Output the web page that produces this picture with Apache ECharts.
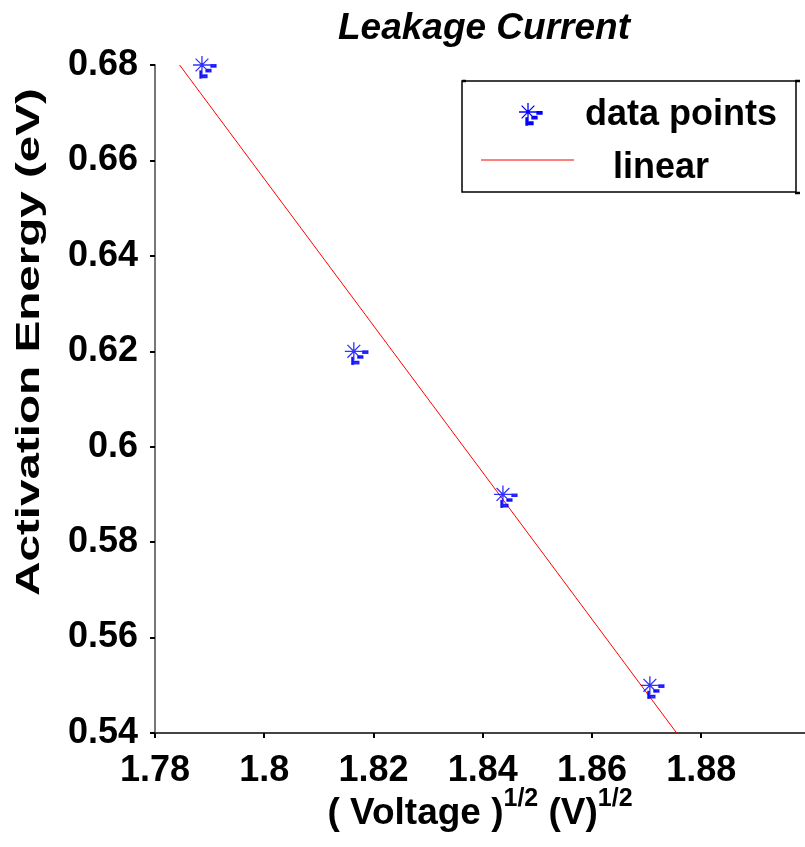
<!DOCTYPE html>
<html>
<head>
<meta charset="utf-8">
<title>Leakage Current</title>
<script src="https://cdn.jsdelivr.net/npm/echarts@6/dist/echarts.min.js"></script>
<style>
  html, body { margin: 0; padding: 0; background: #fff; }
  #chart { width: 805px; height: 847px; }
</style>
</head>
<body>
<div id="chart"></div>
<script>
// Measured points: square root of voltage vs. activation energy
const sqrtVoltage = [1.7886, 1.8164, 1.8437, 1.8706];
const activationEnergy = [0.68, 0.62, 0.59, 0.55];

// End points of the linear fit line
const fitX = [1.7845, 1.8755];
const fitY = [0.68, 0.54];

const FONT = '"Liberation Sans", Arial, Helvetica, sans-serif';

// Asterisk marker with small dash marks, drawn around (0,0)
const STAR_PATH =
  'M-9 0L9 0M0 -9L0 9M-6.4 -6.4L6.4 6.4M-6.4 6.4L6.4 -6.4' +
  'M9 -0.3L14 -0.3L14 2L9 2Z' +
  'M4 4.5L9 4.5L9 6.8L4 6.8Z' +
  'M0 10L5 10L5 12.5L0 12.5Z' +
  'M-2 6L-0.5 6L-0.5 13L-2 13Z';

// Same marker as a reusable graphic shape for the legend
echarts.graphic.registerShape('starMark', echarts.graphic.extendPath(STAR_PATH, {}));

const points = sqrtVoltage.map((x, i) => [x, activationEnergy[i]]);
const fitLine = fitX.map((x, i) => [x, fitY[i]]);

const chart = echarts.init(document.getElementById('chart'), null, { renderer: 'canvas' });

chart.setOption({
  animation: false,
  backgroundColor: '#ffffff',
  title: {
    text: 'Leakage Current',
    left: 333,
    top: 5,
    textStyle: {
      fontFamily: FONT,
      fontSize: 37,
      fontWeight: 'bold',
      fontStyle: 'italic',
      color: '#000'
    }
  },
  grid: { left: 155, right: 0, top: 65, bottom: 114, containLabel: false },
  xAxis: {
    type: 'value',
    min: 1.78,
    max: 1.899,
    interval: 0.02,
    splitLine: { show: false },
    axisLine: { lineStyle: { color: '#444', width: 2 } },
    axisTick: { length: 5, lineStyle: { color: '#000', width: 2 } },
    axisLabel: {
      fontFamily: FONT, fontSize: 36, fontWeight: 'bold', color: '#000',
      margin: 20, showMaxLabel: false
    },
    name: '{m|( Voltage )}{s|1/2}{m| (V)}{s|1/2}',
    nameLocation: 'middle',
    nameGap: 54,
    nameMoveOverlap: false,
    nameTextStyle: {
      rich: {
        m: { fontFamily: FONT, fontSize: 37, fontWeight: 'bold', color: '#000', lineHeight: 54 },
        s: { fontFamily: FONT, fontSize: 25, fontWeight: 'bold', color: '#000', lineHeight: 25, verticalAlign: 'top' }
      }
    }
  },
  yAxis: {
    type: 'value',
    min: 0.54,
    max: 0.68,
    interval: 0.02,
    splitLine: { show: false },
    axisLine: { lineStyle: { color: '#777', width: 2 } },
    axisTick: { length: 5, lineStyle: { color: '#000', width: 2 } },
    axisLabel: {
      fontFamily: FONT, fontSize: 36, fontWeight: 'bold', color: '#000',
      margin: 17
    }
  },
  series: [
    {
      name: 'linear',
      type: 'line',
      data: fitLine,
      symbol: 'none',
      lineStyle: { color: '#ff0000', width: 1 },
      z: 2
    },
    {
      name: 'data points',
      type: 'scatter',
      data: points,
      symbol: 'path://' + STAR_PATH,
      symbolSize: [23, 22],
      symbolOffset: [2.5, 2],
      itemStyle: { color: '#0000ff', borderColor: '#0000ff', borderWidth: 1.3 },
      z: 3
    }
  ],
  graphic: [
    // Legend box
    {
      type: 'rect',
      shape: { x: 462, y: 81, width: 334, height: 111 },
      style: { fill: '#fff', stroke: '#000', lineWidth: 1.5 },
      z: 10
    },
    { type: 'line', shape: { x1: 795, y1: 81, x2: 800, y2: 81 }, style: { stroke: '#000', lineWidth: 2.5 }, z: 11 },
    { type: 'line', shape: { x1: 795, y1: 193, x2: 800, y2: 193 }, style: { stroke: '#000', lineWidth: 2.5 }, z: 11 },
    { type: 'line', shape: { x1: 462, y1: 81, x2: 466, y2: 81 }, style: { stroke: '#000', lineWidth: 2.5 }, z: 11 },
    {
      type: 'starMark',
      x: 528, y: 112,
      style: { fill: '#0000ff', stroke: '#0000ff', lineWidth: 1.3 },
      z: 11
    },
    {
      type: 'text',
      x: 585, y: 115,
      style: {
        text: 'data points', fontFamily: FONT, fontSize: 36, fontWeight: 'bold',
        fill: '#000', align: 'left', verticalAlign: 'middle'
      },
      z: 11
    },
    {
      type: 'line',
      shape: { x1: 481, y1: 160, x2: 574, y2: 160 },
      style: { stroke: '#ff0000', lineWidth: 1 },
      z: 11
    },
    {
      type: 'text',
      x: 613, y: 168,
      style: {
        text: 'linear', fontFamily: FONT, fontSize: 36, fontWeight: 'bold',
        fill: '#000', align: 'left', verticalAlign: 'middle'
      },
      z: 11
    },
    // Y axis title, drawn vertically
    {
      type: 'text',
      x: 30, y: 342,
      rotation: Math.PI / 2,
      scaleX: 1.4,
      style: {
        text: 'Activation Energy (eV)', fontFamily: FONT, fontSize: 34, fontWeight: 'bold',
        fill: '#000', align: 'center', verticalAlign: 'middle'
      },
      z: 11
    }
  ]
});
</script>
</body>
</html>
